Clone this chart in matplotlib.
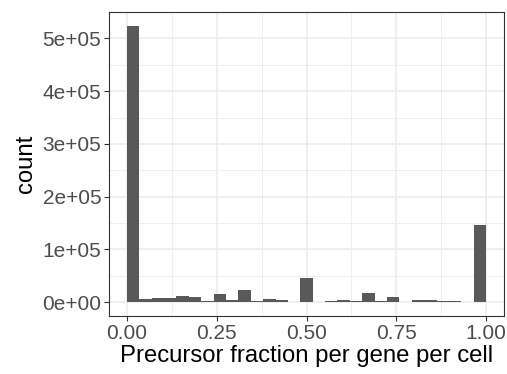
import numpy as np
import matplotlib
matplotlib.use("Agg")
import matplotlib.pyplot as plt
from matplotlib.ticker import FixedLocator

# 29 bins over [0, 1], counts
bin_edges = np.linspace(0, 1, 30)
counts = [524000, 5700, 8200, 7500, 12000, 10700, 2500, 15700, 4400, 23900,
          2500, 6300, 3800, 1000, 46500, 600, 3100, 5000, 2500, 17600,
          2500, 9400, 1200, 5000, 4400, 2500, 2000, 600, 147000]

x_ticks = [0.0, 0.25, 0.5, 0.75, 1.0]
x_labels = ["0.00", "0.25", "0.50", "0.75", "1.00"]
y_ticks = [0, 1e5, 2e5, 3e5, 4e5, 5e5]
y_labels = ["0e+00", "1e+05", "2e+05", "3e+05", "4e+05", "5e+05"]

plt.rcParams['font.family'] = ['Liberation Sans', 'DejaVu Sans']

fig = plt.figure(figsize=(5.07, 3.74), dpi=100)
ax = fig.add_axes([109 / 507, 1 - 316 / 374, 395 / 507, 304 / 374])

widths = np.diff(bin_edges)
ax.bar(bin_edges[:-1], counts, width=widths, align='edge',
       color='#595959', linewidth=0, zorder=3)

ymax = max(counts)
ax.set_xlim(-0.05, 1.05)
ax.set_ylim(-0.05 * ymax, 1.05 * ymax)

ax.set_xticks(x_ticks)
ax.set_xticklabels(x_labels)
ax.set_yticks(y_ticks)
ax.set_yticklabels(y_labels)
ax.xaxis.set_minor_locator(FixedLocator([0.125, 0.375, 0.625, 0.875]))
ax.yaxis.set_minor_locator(FixedLocator([0.5e5, 1.5e5, 2.5e5, 3.5e5, 4.5e5]))

ax.grid(which='major', color='#EBEBEB', linewidth=1.1, zorder=0)
ax.grid(which='minor', color='#EBEBEB', linewidth=0.55, zorder=0)
ax.set_axisbelow(True)

for s in ax.spines.values():
    s.set_color('#333333')
    s.set_linewidth(0.8)

ax.tick_params(which='major', direction='out', length=3.5, width=0.8,
               color='#333333', labelcolor='#4D4D4D', labelsize=15, pad=2)
ax.tick_params(which='minor', length=0)

ax.set_xlabel("Precursor fraction per gene per cell", fontsize=17.2, color='black', labelpad=2)
ax.set_ylabel("count", fontsize=17.2, color='black', labelpad=4)

fig.savefig("out.png", dpi=100)
